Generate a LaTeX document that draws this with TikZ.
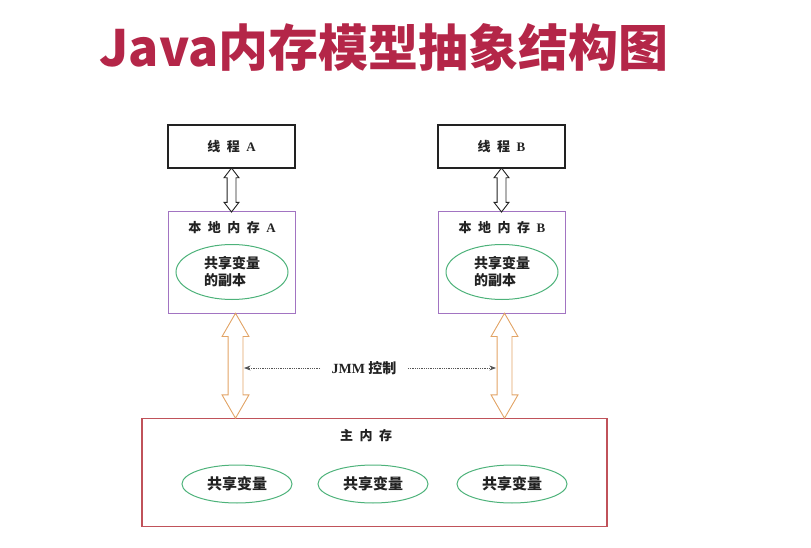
\documentclass[tikz,border=0pt]{standalone}
\usepackage{fontspec}
\setmainfont{Liberation Serif}
\newfontfamily\cjk{Noto Sans CJK SC}
\usetikzlibrary{arrows.meta,positioning,calc,shapes.geometric,shapes.arrows}
\definecolor{title}   {HTML}{B42648}
\definecolor{ink}     {HTML}{222222}
\definecolor{lilac}   {HTML}{A274C2}
\definecolor{leaf}    {HTML}{4DB27A}
\definecolor{amber}   {HTML}{E2A466}
\definecolor{brick}   {HTML}{C0525A}
\definecolor{slate}   {HTML}{555555}
\newcommand{\gp}{\hspace{6.5pt}}

\begin{document}
\begin{tikzpicture}[
  x=1pt, y=-1pt,
  thread/.style={rectangle, draw=ink, line width=1.1pt, minimum width=127pt, minimum height=43pt,
            font=\bfseries\fontsize{13}{15}\selectfont, text=ink},
  local/.style={rectangle, draw=lilac, line width=1pt, minimum width=127pt, minimum height=101pt},
  mainmem/.style={rectangle, draw=brick, line width=1.1pt, minimum width=465pt, minimum height=108pt},
  copyvar/.style={ellipse, draw=leaf, line width=1pt, minimum width=112pt, minimum height=55pt,
            font=\cjk\bfseries\fontsize{14}{17}\selectfont, text=ink, align=left, inner sep=0pt},
  sharevar/.style={ellipse, draw=leaf, line width=1pt, minimum width=110pt, minimum height=38pt,
            font=\cjk\bfseries\fontsize{15}{17}\selectfont, text=ink, inner sep=0pt},
  lab/.style={font=\bfseries\fontsize{13}{15}\selectfont, text=ink, inner sep=1pt},
  dbl/.style={double arrow, rotate=90, inner xsep=0pt, line width=0.9pt, fill=white},
  >=Stealth, dotarr/.style={->, slate, densely dotted, line width=0.8pt, shorten >=1pt}
]
\useasboundingbox (0,0) rectangle (811,548);

\node[text=title, font=\cjk\bfseries\fontsize{50}{56}\selectfont] (head) at (384,47) {Java内存模型抽象结构图};

\node[thread] (tA) at (231.5,146.5) {{\cjk 线\gp 程}\gp A};
\node[thread] (tB) at (501.5,146.5) {{\cjk 线\gp 程}\gp B};

\node[local] (lA) at (231.5,262.5) {};
\node[local] (lB) at (501.5,262.5) {};
\node[lab] (lAt) at (232,228) {{\cjk 本\gp 地\gp 内\gp 存}\gp A};
\node[lab] (lBt) at (502,228) {{\cjk 本\gp 地\gp 内\gp 存}\gp B};
\node[copyvar] (cA) at (232,272) {共享变量\\的副本};
\node[copyvar] (cB) at (502,272) {共享变量\\的副本};

\node[mainmem] (mm) at (374.5,472.5) {};
\node[lab] (mmt) at (366,436) {\cjk 主\gp 内\gp 存};
\node[sharevar] (v1) at (237,484) {共享变量};
\node[sharevar] (v2) at (373,484) {共享变量};
\node[sharevar] (v3) at (512,484) {共享变量};

% thread <-> local memory
\node[dbl, draw=ink, minimum height=44pt, inner ysep=4pt, double arrow head extend=3pt,
      double arrow tip angle=75]
  (aA) at ($(tA.south)!0.5!(lA.north)$) {};
\node[dbl, draw=ink, minimum height=44pt, inner ysep=4pt, double arrow head extend=3pt,
      double arrow tip angle=75]
  (aB) at ($(tB.south)!0.5!(lB.north)$) {};

% local memory <-> main memory
\node[dbl, draw=amber, minimum height=105pt, inner ysep=7pt, double arrow head extend=6pt,
      double arrow tip angle=60]
  (mA) at ($(lA.south)!0.5!(lA.south|-mm.north)+(4,0)$) {};
\node[dbl, draw=amber, minimum height=105pt, inner ysep=7pt, double arrow head extend=6pt,
      double arrow tip angle=60]
  (mB) at ($(lB.south)!0.5!(lB.south|-mm.north)+(3,0)$) {};

\node[font=\bfseries\fontsize{14}{16}\selectfont, text=ink] (jmm) at (364,368) {JMM {\cjk 控制}};
\coordinate (jl) at (243,368);
\coordinate (jr) at (497,368);
\draw[dotarr] ([xshift=-8pt]jmm.west) -- (jl);
\draw[dotarr] ([xshift=8pt]jmm.east) -- (jr);
\end{tikzpicture}
\end{document}
